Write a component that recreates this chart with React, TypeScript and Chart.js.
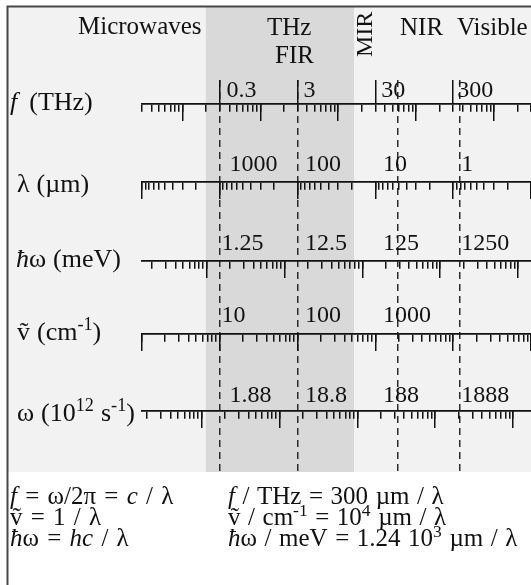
import React, { useEffect, useRef } from "react";
import { Chart, registerables } from "chart.js";

Chart.register(...registerables);

// ---------------- data ----------------
// value range of each row at the left / right end of the axis
const fRangeTHz = [0.03, 3000];
const lambdaRangeUm = [10000, 0.1];
const hbarOmegaRangeMeV = [0.147, 14700];
const wavenumberRangeCm = [1, 100000];
const omegaRange1e12 = [0.17, 17000];

// log-axis subdivisions of a decade
const minorSubdivisions = [1, 2, 3, 4, 5, 6, 7, 8, 9];
const majorSubdivisions = [1];

// marked frequencies on the f row (upward ticks)
const fMarkedTHz = [0.3, 3, 30, 300];
// dashed guide lines (frequency, THz)
const guideLinesTHz = [0.3, 3, 58, 360];
// darker THz / FIR band (THz)
const thzBandTHz = [0.2, 16];

// column labels of each row
const fLabels = ["0.3", "3", "30", "300"];
const lambdaLabels = ["1000", "100", "10", "1"];
const hbarOmegaLabels = ["1.25", "12.5", "125", "1250"];
const wavenumberLabels = ["10", "100", "1000"];
const omegaLabels = ["1.88", "18.8", "188", "1888"];

// region names across the top
const regionNames = ["Microwaves", "THz", "FIR", "MIR", "NIR", "Visible"];

type Seg = { t: string; it?: boolean; sup?: boolean; gap?: number };

const rowNames: Seg[][] = [
  [{ t: "f", it: true }, { t: " (THz)", gap: 5 }],
  [{ t: "λ (µm)" }],
  [{ t: "ħ", it: true }, { t: "ω (meV)" }],
  [{ t: "ṽ (cm" }, { t: "-1", sup: true }, { t: ")" }],
  [{ t: "ω (10" }, { t: "12", sup: true }, { t: " s" }, { t: "-1", sup: true }, { t: ")" }],
];

const formulasLeft: Seg[][] = [
  [{ t: "f", it: true }, { t: " = ω/2π = " }, { t: "c", it: true }, { t: " / λ" }],
  [{ t: "ṽ = 1 / λ" }],
  [{ t: "ħ", it: true }, { t: "ω = " }, { t: "hc", it: true }, { t: " / λ" }],
];
const formulasRight: Seg[][] = [
  [{ t: "f", it: true }, { t: " / THz = 300 µm / λ" }],
  [{ t: "ṽ / cm" }, { t: "-1", sup: true }, { t: " = 10" }, { t: "4", sup: true }, { t: " µm / λ" }],
  [{ t: "ħ", it: true }, { t: "ω / meV = 1.24 10" }, { t: "3", sup: true }, { t: " µm / λ" }],
];

// ---------------- layout / style ----------------
const W = 531;
const H = 585;
const FONT = '"Liberation Serif", "Times New Roman", serif';
const INK = "#111111";
const LIGHT = "#f2f2f2";
const DARK = "#d9d9d9";
const AREA_TOP = 80;
const AREA_BOTTOM = 472;
const PANEL_TOP = 7;

const rowLayout = [
  { id: "f", range: fRangeTHz, lineY: 103.5, labels: fLabels, labelY: 97, dx: [7, 6, 6, 4], nameX: 10, nameY: 110 },
  { id: "lam", range: lambdaRangeUm, lineY: 182.3, labels: lambdaLabels, labelY: 171, dx: [10, 7.5, -14.5, 2], nameX: 17, nameY: 192 },
  { id: "hw", range: hbarOmegaRangeMeV, lineY: 260.5, labels: hbarOmegaLabels, labelY: 250, dx: [2, 7.5, -14.5, 2], nameX: 16, nameY: 267 },
  { id: "nu", range: wavenumberRangeCm, lineY: 334, labels: wavenumberLabels, labelY: 322, dx: [2, 7.5, -14.5, 2], nameX: 17, nameY: 340 },
  { id: "om", range: omegaRange1e12, lineY: 410.5, labels: omegaLabels, labelY: 402, dx: [10, 7.5, -14.5, 2], nameX: 17, nameY: 421 },
];

function decadeValues(range: number[], subs: number[]) {
  const lo = Math.min(range[0], range[1]);
  const hi = Math.max(range[0], range[1]);
  const out: number[] = [];
  for (let e = Math.floor(Math.log10(lo)); e <= Math.ceil(Math.log10(hi)); e++) {
    for (const s of subs) {
      const v = s * Math.pow(10, e);
      if (v >= lo * 0.9999 && v <= hi * 1.0001) out.push(v);
    }
  }
  return out;
}

function logAxis(range: number[], y: number, o: { values: number[]; tickLength: number; border?: boolean; gridColor?: string; dash?: number[] }) {
  return {
    type: "logarithmic",
    axis: "x",
    position: { y },
    reverse: range[0] > range[1],
    min: Math.min(range[0], range[1]),
    max: Math.max(range[0], range[1]),
    bounds: "data",
    ticks: { display: false },
    grid: {
      display: true,
      drawOnChartArea: !!o.gridColor,
      drawTicks: o.tickLength > 0,
      tickLength: o.tickLength,
      tickWidth: 1.5,
      tickColor: INK,
      color: o.gridColor || "transparent",
      lineWidth: 1.5,
      offset: false,
    },
    border: { display: !!o.border, width: 1.7, color: INK, dash: o.dash || [] },
    afterBuildTicks: (s: any) => {
      s.ticks = o.values.map((v) => ({ value: v }));
    },
  };
}

// draws mixed italic / superscript text; spaces may be widened by spaceExtra px
function drawRich(ctx: CanvasRenderingContext2D, segs: Seg[], x: number, y: number, size: number, spaceExtra = 0) {
  let cx = x;
  for (const s of segs) {
    cx += s.gap || 0;
    const fs = s.sup ? size * 0.7 : size;
    ctx.font = `${s.it ? "italic " : ""}${fs}px ${FONT}`;
    const dy = s.sup ? -size * 0.37 : 0;
    const parts = s.t.split(" ");
    const spaceW = ctx.measureText(" ").width + spaceExtra;
    parts.forEach((p, i) => {
      if (i > 0) cx += spaceW;
      if (p.length) {
        ctx.fillText(p, cx, y + dy);
        cx += ctx.measureText(p).width;
      }
    });
  }
}

const backgroundPlugin = {
  id: "panelBackground",
  beforeDraw(chart: any) {
    const ctx = chart.ctx as CanvasRenderingContext2D;
    const f = chart.scales.f;
    ctx.save();
    ctx.fillStyle = LIGHT;
    ctx.fillRect(8, PANEL_TOP, W - 8, AREA_BOTTOM - PANEL_TOP);
    const x0 = f.getPixelForValue(thzBandTHz[0]);
    const x1 = f.getPixelForValue(thzBandTHz[1]);
    ctx.fillStyle = DARK;
    ctx.fillRect(x0, PANEL_TOP, x1 - x0, AREA_BOTTOM - PANEL_TOP);
    ctx.strokeStyle = "#474747";
    ctx.lineWidth = 2;
    ctx.beginPath();
    ctx.moveTo(7.5, H);
    ctx.lineTo(7.5, 6.5);
    ctx.lineTo(W, 6.5);
    ctx.stroke();
    ctx.restore();
  },
};

const textPlugin = {
  id: "panelText",
  afterDraw(chart: any) {
    const ctx = chart.ctx as CanvasRenderingContext2D;
    const f = chart.scales.f;
    ctx.save();
    ctx.fillStyle = INK;
    ctx.textBaseline = "alphabetic";
    ctx.textAlign = "left";

    // region names
    ctx.font = `25px ${FONT}`;
    ctx.fillText(regionNames[0], 78, 34);
    ctx.fillText(regionNames[1], 267, 35);
    ctx.fillText(regionNames[2], 275, 63);
    ctx.fillText(regionNames[4], 400, 35);
    ctx.fillText(regionNames[5], 457, 35);
    ctx.save();
    ctx.translate(372, 57);
    ctx.rotate(-Math.PI / 2);
    ctx.font = `24px ${FONT}`;
    ctx.fillText(regionNames[3], 0, 0);
    ctx.restore();

    // row names and column labels
    rowLayout.forEach((row, r) => {
      drawRich(ctx, rowNames[r], row.nameX, row.nameY, 26, 0.5);
      ctx.font = `24px ${FONT}`;
      row.labels.forEach((lab, i) => {
        const anchor = r === 0 ? fMarkedTHz[i] : guideLinesTHz[i];
        const x = f.getPixelForValue(anchor) + row.dx[i];
        ctx.fillText(lab, x, row.labelY);
      });
    });

    // formulas
    const base = [504, 525, 546];
    formulasLeft.forEach((segs, i) => drawRich(ctx, segs, 10, base[i], 25, 2));
    formulasRight.forEach((segs, i) => drawRich(ctx, segs, 228, base[i], 25, 1.3));
    ctx.restore();
  },
};

export default function App() {
  const ref = useRef<HTMLCanvasElement | null>(null);

  useEffect(() => {
    const canvas = ref.current;
    if (!canvas) return;

    const scales: any = {
      y: { type: "linear", min: AREA_TOP, max: AREA_BOTTOM, reverse: true, display: false },
      guide: logAxis(fRangeTHz, AREA_TOP, {
        values: guideLinesTHz,
        tickLength: 0,
        gridColor: "#2b2b2b",
        dash: [7, 5],
      }),
      fMarked: logAxis(fRangeTHz, AREA_TOP, { values: fMarkedTHz, tickLength: 103.5 - AREA_TOP }),
    };
    rowLayout.forEach((row) => {
      scales[row.id] = logAxis(row.range, row.lineY, {
        values: decadeValues(row.range, minorSubdivisions),
        tickLength: 7,
        border: true,
      });
      scales[row.id + "Major"] = logAxis(row.range, row.lineY, {
        values: decadeValues(row.range, majorSubdivisions),
        tickLength: 17,
      });
    });

    const chart = new Chart(canvas, {
      type: "scatter",
      data: { datasets: [] },
      options: {
        animation: false,
        responsive: false,
        events: [],
        layout: { padding: { left: 141.7, right: 0, top: AREA_TOP, bottom: H - AREA_BOTTOM } },
        plugins: {
          legend: { display: false },
          tooltip: { enabled: false },
          title: { display: false },
        },
        scales,
      },
      plugins: [backgroundPlugin, textPlugin],
    } as any);

    return () => chart.destroy();
  }, []);

  return (
    <div style={{ position: "absolute", left: 0, top: 0, width: W, height: H }}>
      <canvas ref={ref} width={W} height={H} style={{ display: "block" }} />
    </div>
  );
}
